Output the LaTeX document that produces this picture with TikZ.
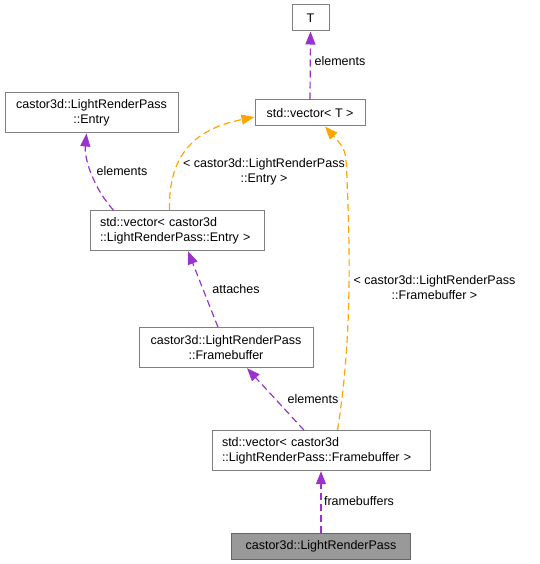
\documentclass[tikz,border=0pt]{standalone}
\usepackage{fontspec}
\setmainfont{Liberation Sans}
\usetikzlibrary{arrows.meta}
\definecolor{edgepurple}{HTML}{9A32CD}
\definecolor{edgeorange}{HTML}{FFA500}
\definecolor{boxgray}{HTML}{7F7F7F}
\begin{document}
\begin{tikzpicture}[x=1pt, y=-1pt,
    cls/.style={rectangle, draw=boxgray, line width=1pt, inner sep=0pt, font=\fontsize{12.5}{15}\selectfont, align=center},
    vec/.style={cls, inner xsep=10pt, align=left},
    main/.style={cls, fill=black!40, draw=black!60},
    member/.style={-{Triangle[length=13pt,width=10pt]}, edgepurple, line width=1.2pt, dash pattern=on 7pt off 4pt},
    templ/.style={member, edgeorange},
    lbl/.style={font=\fontsize{12.5}{15}\selectfont, align=center, inner sep=0pt}]
    \useasboundingbox (0,0) rectangle (539,564);

    \node[cls, minimum width=37pt, minimum height=26pt] (t) at (310.5,18) {T};
    \node[cls, minimum width=110pt, minimum height=26pt] (vect) at (310,113) {std::vector< T >};
    \node[cls, minimum width=173pt, minimum height=40pt] (entry) at (91.5,113) {castor3d::LightRenderPass\\::Entry};
    \node[vec, text width=154pt, minimum height=40pt] (vecentry) at (177,230.7) {std::vector< castor3d\\::LightRenderPass::Entry >};
    \node[cls, minimum width=174pt, minimum height=40pt] (fb) at (226,347.7) {castor3d::LightRenderPass\\::Framebuffer};
    \node[vec, text width=198pt, minimum height=40pt] (vecfb) at (321,450.7) {std::vector< castor3d\\::LightRenderPass::Framebuffer >};
    \node[main, minimum width=179pt, minimum height=26pt] (lrp) at (321,546) {castor3d::LightRenderPass};

    \draw[member] (vect.north) -- (t.south);
    \node[lbl] (lbl-t) at (340,61) {elements};

    \draw[member] ([xshift=24pt]vecentry.north west) .. controls (95,190) and (84,160) .. ([xshift=-5pt]entry.south);
    \node[lbl] (lbl-entry) at (122,171) {elements};

    \draw[templ] ([xshift=80pt]vecentry.north west) .. controls (168,150) and (200,128) .. ([yshift=-4pt]vect.west);
    \node[lbl] (lbl-vecentry) at (264,171.5) {< castor3d::LightRenderPass\\::Entry >};

    \draw[member] ([xshift=-8pt]fb.north) -- ([xshift=11pt]vecentry.south);
    \node[lbl] (lbl-fb) at (236,289) {attaches};

    \draw[templ] ([xshift=126pt]vecfb.north west) .. controls (352,340) and (350,250) .. (347,180)
        .. controls (346,150) .. ([xshift=15pt]vect.south);
    \node[lbl] (lbl-vecfb) at (434.5,288) {< castor3d::LightRenderPass\\::Framebuffer >};

    \draw[member] ([xshift=-17pt]vecfb.north) -- ([xshift=21pt]fb.south);
    \node[lbl] (lbl-fbel) at (313,399) {elements};

    \draw[member] (lrp.north) -- (vecfb.south);
    \node[lbl] (lbl-lrp) at (359,501) {framebuffers};
\end{tikzpicture}
\end{document}
